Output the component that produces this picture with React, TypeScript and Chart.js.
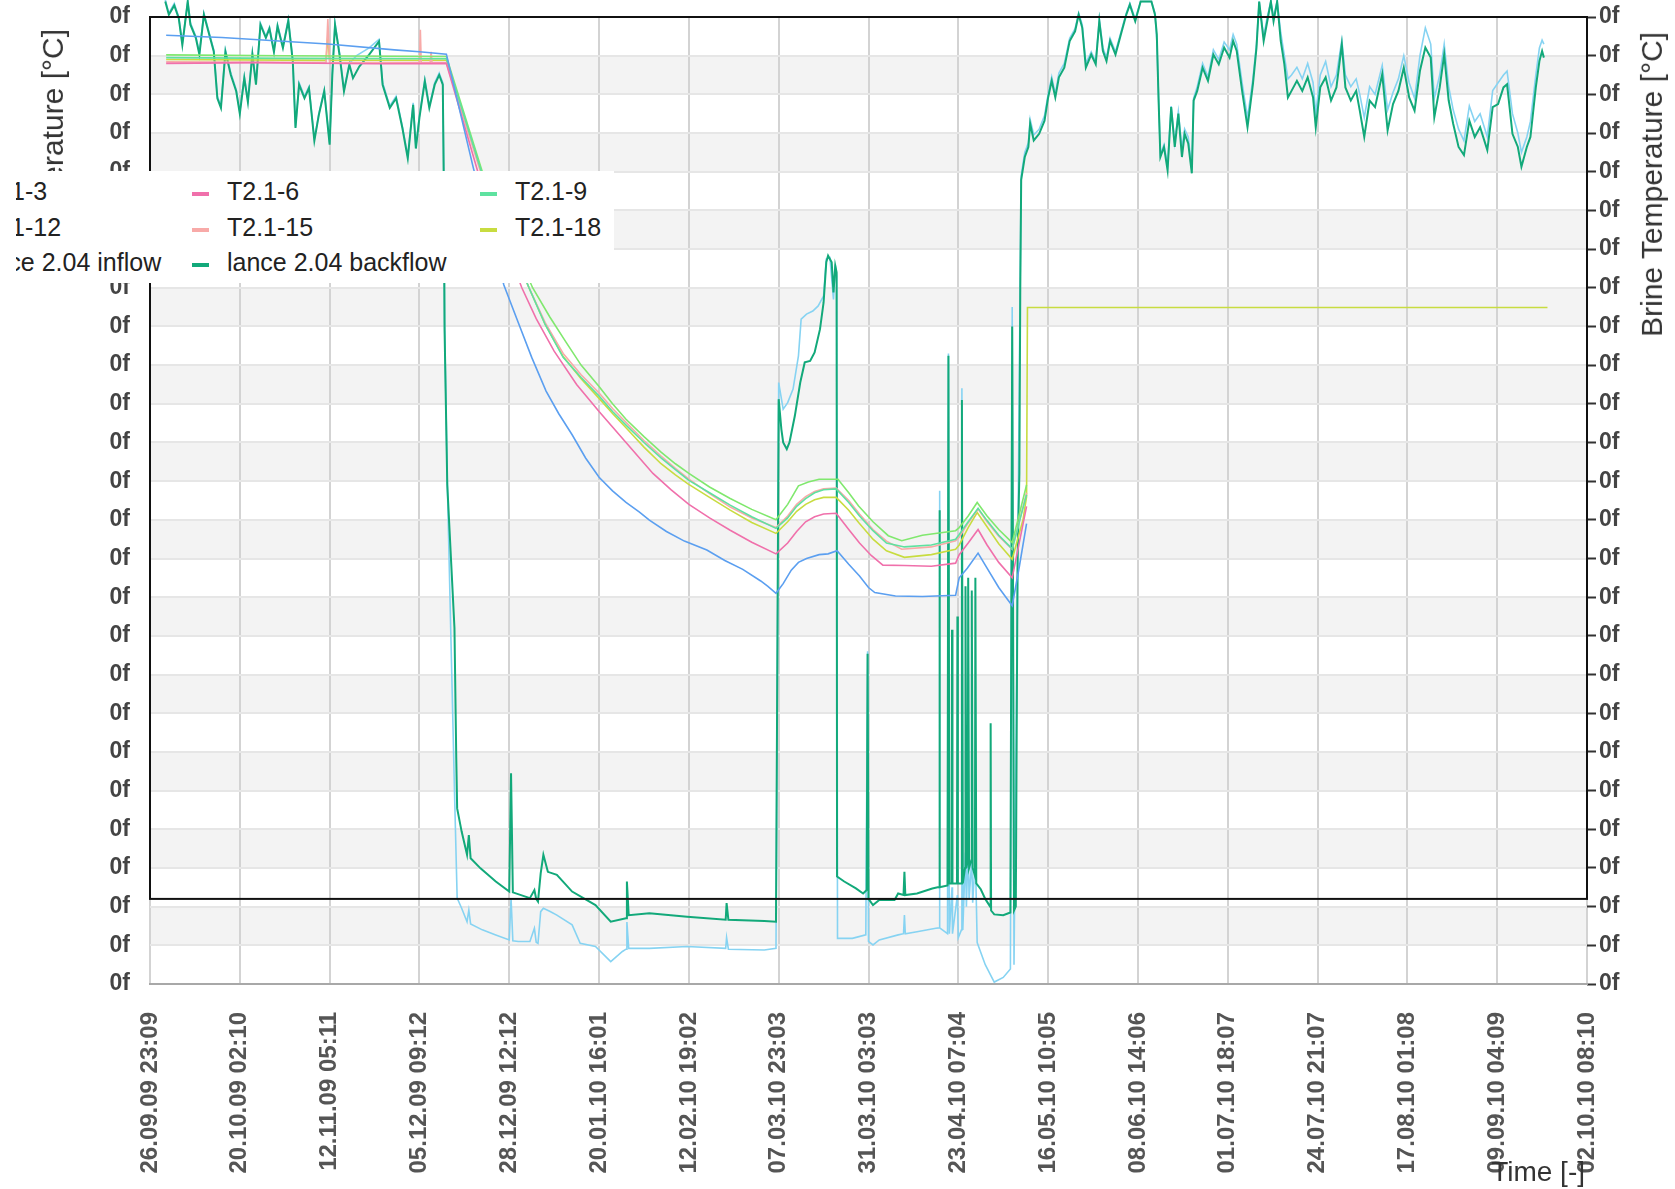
import React, { useEffect, useRef } from 'react';
import { Chart, registerables } from 'chart.js';

Chart.register(...registerables);

const W = 1675;
const H = 1189;
const FONT = "'Liberation Sans', Arial, sans-serif";

// x values are in tick steps (0 = first tick label), y values in axis steps (0 = bottom tick)
const xTickLabels = [
  '26.09.09 23:09', '20.10.09 02:10', '12.11.09 05:11', '05.12.09 09:12', '28.12.09 12:12',
  '20.01.10 16:01', '12.02.10 19:02', '07.03.10 23:03', '31.03.10 03:03', '23.04.10 07:04',
  '16.05.10 10:05', '08.06.10 14:06', '01.07.10 18:07', '24.07.10 21:07', '17.08.10 01:08',
  '09.09.10 04:09', '02.10.10 08:10',
];
const yTickLabel = '0f';
const Y_MIN = 0;
const Y_MAX = 25;
const BOX_FLOOR = 2.2;

type P = [number, number];

const T2_1_3: P[] = [
  [0.18, 24.53], [0.8, 24.47], [1.57, 24.36], [1.98, 24.3], [2.72, 24.15], [3.0, 24.1], [3.3, 24.04],
  [3.6, 21.1], [3.94, 18.07], [4.1, 17.1], [4.25, 16.2], [4.41, 15.33], [4.55, 14.75], [4.7, 14.2],
  [4.85, 13.6], [5.0, 13.1], [5.15, 12.75], [5.3, 12.45], [5.45, 12.2], [5.56, 11.99], [5.75, 11.7],
  [5.95, 11.45], [6.2, 11.22], [6.4, 10.95], [6.6, 10.72], [6.8, 10.42], [6.88, 10.28], [6.97, 10.1],
  [7.05, 10.35], [7.14, 10.7], [7.22, 10.9], [7.31, 11.0], [7.45, 11.1], [7.55, 11.12], [7.65, 11.2],
  [7.78, 10.85], [7.9, 10.55], [8.0, 10.25], [8.07, 10.12], [8.3, 10.03], [8.6, 10.02], [8.97, 10.05],
  [9.01, 10.5], [9.1, 10.75], [9.22, 11.14], [9.32, 10.75], [9.45, 10.25], [9.6, 9.78], [9.68, 10.8], [9.76, 11.9],
];
const T2_1_6: P[] = [
  [0.18, 23.8], [1.2, 23.82], [2.5, 23.79], [3.3, 23.8], [3.65, 21.0], [4.14, 18.0], [4.3, 17.2],
  [4.5, 16.36], [4.75, 15.5], [5.0, 14.8], [5.15, 14.4], [5.3, 14.0], [5.45, 13.6], [5.6, 13.2],
  [5.8, 12.78], [6.0, 12.4], [6.23, 12.05], [6.46, 11.73], [6.7, 11.42], [6.97, 11.12], [7.1, 11.4],
  [7.2, 11.7], [7.3, 11.95], [7.4, 12.08], [7.5, 12.15], [7.64, 12.17], [7.78, 11.75], [7.9, 11.4],
  [8.03, 11.08], [8.16, 10.83], [8.4, 10.82], [8.7, 10.8], [8.97, 10.88], [9.01, 11.1], [9.11, 11.4],
  [9.22, 11.75], [9.32, 11.35], [9.45, 10.9], [9.6, 10.5], [9.76, 12.35],
];
const T2_1_9: P[] = [
  [0.18, 23.95], [1.5, 23.93], [3.3, 23.92], [3.69, 21.0], [4.22, 18.0], [4.4, 17.05], [4.6, 16.2],
  [4.8, 15.68], [5.0, 15.2], [5.15, 14.8], [5.3, 14.45], [5.5, 14.0], [5.69, 13.6], [5.85, 13.3],
  [6.0, 13.02], [6.23, 12.7], [6.46, 12.38], [6.7, 12.08], [6.97, 11.78], [7.1, 12.05], [7.2, 12.35],
  [7.3, 12.55], [7.4, 12.7], [7.5, 12.78], [7.64, 12.8], [7.78, 12.45], [7.9, 12.1], [8.05, 11.72],
  [8.2, 11.4], [8.4, 11.3], [8.7, 11.35], [8.97, 11.5], [9.01, 11.62], [9.11, 11.95], [9.22, 12.3],
  [9.32, 11.98], [9.45, 11.6], [9.6, 11.25], [9.76, 12.65],
];
const T2_1_12: P[] = [
  [0.18, 24.02], [1.5, 24.0], [3.3, 23.98], [3.7, 21.0], [4.26, 18.0], [4.45, 17.25], [4.63, 16.6],
  [4.8, 16.0], [5.0, 15.45], [5.15, 15.0], [5.3, 14.6], [5.5, 14.15], [5.69, 13.75], [5.85, 13.45],
  [6.0, 13.2], [6.23, 12.85], [6.46, 12.55], [6.7, 12.27], [6.97, 12.0], [7.1, 12.4], [7.22, 12.88],
  [7.33, 12.98], [7.45, 13.05], [7.66, 13.05], [7.78, 12.7], [7.89, 12.36], [8.05, 11.95], [8.22, 11.59],
  [8.37, 11.46], [8.6, 11.6], [8.97, 11.72], [9.01, 11.8], [9.11, 12.1], [9.21, 12.45], [9.32, 12.1],
  [9.45, 11.75], [9.6, 11.41], [9.76, 12.9],
];
const T2_1_15: P[] = [
  [0.18, 23.84], [1.96, 23.82], [1.98, 24.95], [2.0, 23.82], [3.0, 23.82], [3.01, 24.67], [3.02, 23.82],
  [3.12, 23.82], [3.13, 24.1], [3.14, 23.82], [3.3, 23.82], [3.68, 21.0], [4.22, 18.0], [4.4, 17.1],
  [4.6, 16.3], [4.8, 15.75], [5.0, 15.28], [5.15, 14.88], [5.3, 14.52], [5.5, 14.05], [5.69, 13.65],
  [5.85, 13.33], [6.0, 13.05], [6.23, 12.68], [6.46, 12.33], [6.7, 12.05], [6.97, 11.8], [7.1, 12.1],
  [7.2, 12.4], [7.3, 12.6], [7.4, 12.73], [7.5, 12.8], [7.64, 12.82], [7.78, 12.5], [7.9, 12.15],
  [8.05, 11.75], [8.2, 11.45], [8.37, 11.24], [8.7, 11.3], [8.97, 11.46], [9.01, 11.55], [9.11, 11.92],
  [9.22, 12.28], [9.32, 11.95], [9.45, 11.58], [9.6, 11.24], [9.76, 12.7],
];
const T2_1_18: P[] = [
  [0.18, 23.9], [1.96, 23.88], [1.98, 24.5], [2.0, 23.88], [3.3, 23.88], [3.69, 21.0], [4.22, 18.0],
  [4.4, 17.05], [4.6, 16.22], [4.8, 15.65], [5.0, 15.14], [5.15, 14.75], [5.3, 14.38], [5.5, 13.88],
  [5.69, 13.45], [5.85, 13.16], [5.99, 12.93], [6.23, 12.58], [6.46, 12.25], [6.7, 11.93], [6.97, 11.65],
  [7.1, 11.95], [7.2, 12.22], [7.3, 12.4], [7.4, 12.52], [7.5, 12.58], [7.64, 12.58], [7.78, 12.25],
  [7.89, 11.93], [8.05, 11.5], [8.2, 11.2], [8.4, 11.03], [8.7, 11.1], [8.97, 11.24], [9.01, 11.35],
  [9.11, 11.8], [9.21, 12.19], [9.32, 11.82], [9.45, 11.38], [9.6, 10.98], [9.72, 12.0],
  [9.76, 12.6], [9.77, 17.49], [15.56, 17.49],
];

const lanceInflow: P[] = [
  [0.17, 25.45], [0.21, 25.1], [0.27, 25.35], [0.32, 25.0], [0.36, 24.33], [0.42, 25.4], [0.45, 24.85],
  [0.51, 24.5], [0.55, 24.08], [0.6, 25.1], [0.66, 24.58], [0.71, 24.15], [0.75, 22.95], [0.79, 22.7],
  [0.84, 24.15], [0.9, 23.55], [0.96, 23.12], [1.0, 22.55], [1.05, 23.46], [1.09, 22.85], [1.14, 24.07],
  [1.18, 23.3], [1.23, 24.84], [1.29, 24.5], [1.33, 24.74], [1.38, 24.14], [1.42, 24.8], [1.48, 24.24],
  [1.54, 24.94], [1.59, 23.9], [1.62, 22.17], [1.66, 23.3], [1.72, 22.95], [1.77, 23.2], [1.83, 21.85],
  [1.88, 22.5], [1.94, 23.12], [2.0, 21.74], [2.03, 23.55], [2.06, 24.84], [2.11, 24.07], [2.16, 23.12],
  [2.22, 23.8], [2.3, 24.0], [2.44, 24.2], [2.55, 24.42], [2.59, 23.3], [2.67, 22.7], [2.74, 22.95],
  [2.81, 22.17], [2.87, 21.4], [2.93, 22.78], [2.96, 21.65], [3.0, 22.45], [3.06, 23.38], [3.11, 22.7],
  [3.17, 23.3], [3.22, 23.55], [3.26, 23.3], [3.27, 21.1], [3.28, 17.1], [3.31, 13.0], [3.35, 9.0],
  [3.39, 5.0], [3.42, 2.22], [3.47, 1.96], [3.53, 1.61], [3.55, 1.91], [3.57, 1.55], [3.7, 1.4],
  [3.85, 1.27], [4.0, 1.14], [4.02, 2.22], [4.04, 1.12], [4.1, 1.1], [4.23, 1.1], [4.28, 1.44],
  [4.3, 1.08], [4.32, 1.05], [4.35, 1.87], [4.38, 1.96], [4.45, 1.88], [4.53, 1.78], [4.7, 1.53],
  [4.79, 1.05], [4.96, 0.97], [5.13, 0.58], [5.26, 0.84], [5.3, 0.9], [5.31, 1.6], [5.33, 0.92],
  [5.56, 0.92], [5.98, 0.97], [6.41, 0.92], [6.42, 1.2], [6.44, 0.9], [6.84, 0.88], [6.97, 0.92],
  [7.0, 15.55], [7.05, 14.86], [7.1, 15.03], [7.16, 15.38], [7.22, 16.24], [7.25, 17.19], [7.31, 17.32],
  [7.38, 17.4], [7.44, 17.53], [7.5, 17.79], [7.53, 18.74], [7.57, 18.78], [7.61, 17.7], [7.63, 18.6],
  [7.645, 18.3], [7.655, 1.18], [7.82, 1.18], [7.97, 1.27], [7.99, 8.6], [8.0, 1.1], [8.05, 1.01],
  [8.12, 1.14], [8.33, 1.27], [8.39, 1.3], [8.4, 1.78], [8.41, 1.3], [8.54, 1.35], [8.75, 1.44],
  [8.785, 1.45], [8.79, 12.75], [8.795, 1.45], [8.88, 1.3], [8.89, 16.3], [8.9, 1.3], [8.93, 2.5],
  [8.935, 1.3], [8.99, 2.3], [9.0, 1.2], [9.035, 1.4], [9.04, 15.4], [9.05, 1.4], [9.08, 3.4],
  [9.09, 2.0], [9.11, 3.6], [9.12, 2.2], [9.15, 3.2], [9.16, 2.1], [9.19, 3.3], [9.21, 1.07],
  [9.3, 0.5], [9.4, 0.05], [9.5, 0.17], [9.58, 0.39], [9.6, 17.5], [9.62, 0.5], [9.66, 10.5],
  [9.69, 18.5], [9.7, 20.9], [9.74, 21.5], [9.78, 21.75], [9.8, 22.35], [9.84, 21.95], [9.9, 22.1],
  [9.96, 22.45], [10.0, 23.0], [10.04, 23.45], [10.08, 23.0], [10.12, 23.55], [10.18, 23.8], [10.24, 24.45],
  [10.3, 24.7], [10.34, 25.1], [10.38, 24.8], [10.42, 23.8], [10.48, 24.1], [10.53, 23.85], [10.57, 24.95],
  [10.61, 24.2], [10.65, 23.95], [10.69, 24.45], [10.75, 24.1], [10.81, 24.6], [10.87, 25.1], [10.91, 25.35],
  [10.97, 24.95], [11.03, 25.4], [11.15, 25.4], [11.19, 25.1], [11.21, 24.4], [11.23, 22.9], [11.25, 21.45],
  [11.29, 21.7], [11.33, 21.15], [11.37, 22.7], [11.41, 21.75], [11.45, 22.55], [11.49, 21.6], [11.52, 22.1],
  [11.56, 21.9], [11.6, 21.05], [11.62, 22.9], [11.66, 23.2], [11.72, 23.8], [11.78, 23.45], [11.84, 24.15],
  [11.9, 23.9], [11.96, 24.35], [12.02, 24.15], [12.06, 24.55], [12.1, 24.3], [12.16, 23.3], [12.22, 22.4],
  [12.28, 23.4], [12.32, 24.3], [12.35, 25.4], [12.4, 24.5], [12.44, 25.0], [12.48, 25.4], [12.51, 25.0],
  [12.55, 25.4], [12.59, 24.6], [12.63, 24.0], [12.67, 23.4], [12.71, 23.5], [12.77, 23.7], [12.83, 23.4],
  [12.89, 23.8], [12.95, 23.3], [12.98, 22.5], [13.03, 23.5], [13.09, 23.85], [13.15, 23.2], [13.21, 23.5],
  [13.27, 24.4], [13.31, 23.5], [13.37, 23.2], [13.43, 23.4], [13.47, 23.0], [13.52, 22.4], [13.58, 23.2],
  [13.64, 23.0], [13.72, 23.75], [13.78, 22.6], [13.84, 23.05], [13.9, 23.4], [13.96, 24.0], [14.02, 23.3],
  [14.08, 22.9], [14.14, 24.0], [14.2, 24.72], [14.26, 24.3], [14.3, 22.9], [14.36, 23.5], [14.41, 24.3],
  [14.46, 23.2], [14.51, 22.6], [14.57, 22.1], [14.63, 21.8], [14.69, 22.7], [14.75, 22.3], [14.81, 22.5],
  [14.89, 21.9], [14.95, 23.1], [15.01, 23.3], [15.07, 23.5], [15.11, 23.6], [15.17, 22.5], [15.23, 22.0],
  [15.27, 21.5], [15.33, 21.9], [15.37, 22.3], [15.43, 23.5], [15.47, 24.2], [15.5, 24.4], [15.52, 24.3],
];

const lanceBackflow: P[] = [
  [0.17, 25.4], [0.21, 25.06], [0.27, 25.3], [0.32, 24.97], [0.36, 24.28], [0.42, 25.4], [0.45, 24.8],
  [0.51, 24.46], [0.55, 24.03], [0.6, 25.06], [0.66, 24.54], [0.71, 24.11], [0.75, 22.9], [0.79, 22.65],
  [0.84, 24.1], [0.9, 23.5], [0.96, 23.08], [1.0, 22.5], [1.05, 23.42], [1.09, 22.8], [1.14, 24.03],
  [1.18, 23.25], [1.23, 24.8], [1.29, 24.46], [1.33, 24.7], [1.38, 24.1], [1.42, 24.76], [1.48, 24.2],
  [1.54, 24.9], [1.59, 23.85], [1.62, 22.13], [1.66, 23.25], [1.72, 22.9], [1.77, 23.16], [1.83, 21.8],
  [1.88, 22.47], [1.94, 23.08], [2.0, 21.7], [2.03, 23.5], [2.06, 24.8], [2.11, 24.03], [2.16, 23.08],
  [2.22, 23.77], [2.26, 23.42], [2.33, 23.72], [2.44, 24.03], [2.55, 24.37], [2.59, 23.25], [2.67, 22.65],
  [2.74, 22.9], [2.81, 22.13], [2.87, 21.35], [2.93, 22.73], [2.96, 21.6], [3.0, 22.4], [3.06, 23.34],
  [3.11, 22.65], [3.17, 23.25], [3.22, 23.5], [3.26, 23.25], [3.27, 21.0], [3.28, 16.9], [3.31, 12.9],
  [3.39, 9.2], [3.41, 5.84], [3.42, 4.54], [3.47, 3.94], [3.53, 3.34], [3.55, 3.85], [3.57, 3.25],
  [3.68, 2.99], [3.85, 2.65], [4.0, 2.39], [4.02, 5.45], [4.04, 2.37], [4.23, 2.22], [4.28, 2.43],
  [4.3, 2.2], [4.32, 2.13], [4.35, 2.86], [4.38, 3.34], [4.43, 2.9], [4.53, 2.82], [4.7, 2.39],
  [4.96, 2.04], [5.13, 1.61], [5.3, 1.7], [5.31, 2.65], [5.33, 1.78], [5.56, 1.83], [5.98, 1.74],
  [6.41, 1.66], [6.42, 2.09], [6.44, 1.66], [6.84, 1.63], [6.97, 1.61], [7.0, 15.12], [7.03, 14.34],
  [7.05, 14.0], [7.09, 13.83], [7.12, 14.0], [7.18, 14.69], [7.24, 15.55], [7.29, 16.07], [7.35, 16.11],
  [7.4, 16.33], [7.46, 16.93], [7.5, 17.62], [7.53, 18.66], [7.55, 18.83], [7.59, 18.66], [7.61, 17.88],
  [7.63, 18.57], [7.645, 18.4], [7.65, 2.78], [7.73, 2.65], [7.86, 2.47], [7.94, 2.34], [7.98, 2.43],
  [7.99, 8.54], [8.0, 2.2], [8.05, 2.04], [8.12, 2.17], [8.29, 2.17], [8.33, 2.34], [8.39, 2.3],
  [8.4, 2.9], [8.41, 2.3], [8.54, 2.34], [8.71, 2.47], [8.77, 2.5], [8.785, 2.5], [8.79, 12.25],
  [8.795, 2.5], [8.88, 2.55], [8.89, 16.24], [8.9, 2.6], [8.925, 2.6], [8.93, 9.16], [8.935, 2.6],
  [8.985, 2.6], [8.99, 9.5], [8.995, 2.6], [9.035, 2.6], [9.04, 15.1], [9.05, 2.6], [9.075, 3.0],
  [9.08, 10.28], [9.09, 3.0], [9.105, 3.2], [9.11, 10.5], [9.12, 3.0], [9.145, 3.2], [9.15, 10.17],
  [9.16, 3.0], [9.185, 2.8], [9.19, 10.5], [9.2, 2.6], [9.25, 2.45], [9.3, 2.2], [9.355, 2.0],
  [9.36, 6.74], [9.365, 1.9], [9.4, 1.8], [9.5, 1.78], [9.58, 1.85], [9.6, 17.0], [9.62, 1.9],
  [9.64, 2.0], [9.66, 11.0], [9.68, 13.2], [9.69, 18.0], [9.7, 20.79], [9.74, 21.38], [9.78, 21.64],
  [9.8, 22.24], [9.84, 21.81], [9.9, 21.98], [9.96, 22.32], [10.0, 22.92], [10.04, 23.35], [10.08, 22.92],
  [10.12, 23.44], [10.18, 23.69], [10.24, 24.38], [10.3, 24.63], [10.34, 25.06], [10.38, 24.72], [10.42, 23.69],
  [10.48, 24.03], [10.53, 23.78], [10.57, 24.89], [10.61, 24.12], [10.65, 23.86], [10.69, 24.38], [10.75, 24.03],
  [10.81, 24.55], [10.87, 25.06], [10.91, 25.32], [10.97, 24.89], [11.03, 25.4], [11.09, 25.4], [11.15, 25.4],
  [11.19, 25.06], [11.21, 24.55], [11.23, 22.84], [11.25, 21.38], [11.29, 21.64], [11.33, 21.04], [11.37, 22.67],
  [11.41, 21.64], [11.45, 22.5], [11.49, 21.38], [11.52, 21.98], [11.56, 21.73], [11.6, 20.96], [11.62, 22.84],
  [11.66, 23.09], [11.72, 23.69], [11.78, 23.35], [11.84, 24.03], [11.9, 23.78], [11.96, 24.21], [12.02, 23.95],
  [12.06, 24.38], [12.1, 24.12], [12.16, 23.09], [12.22, 22.15], [12.28, 23.26], [12.32, 24.21], [12.35, 25.4],
  [12.4, 24.38], [12.44, 24.89], [12.48, 25.4], [12.51, 24.89], [12.55, 25.4], [12.59, 24.38], [12.63, 23.78],
  [12.67, 22.92], [12.71, 23.09], [12.77, 23.35], [12.83, 23.09], [12.89, 23.44], [12.95, 22.92], [12.98, 22.15],
  [13.03, 23.18], [13.09, 23.44], [13.15, 22.84], [13.21, 23.18], [13.27, 24.29], [13.31, 23.18], [13.37, 22.84],
  [13.43, 23.09], [13.47, 22.58], [13.52, 21.9], [13.58, 22.84], [13.64, 22.67], [13.72, 23.52], [13.78, 22.07],
  [13.84, 22.75], [13.9, 23.09], [13.96, 23.69], [14.02, 22.92], [14.08, 22.58], [14.14, 23.61], [14.2, 24.21],
  [14.26, 23.95], [14.3, 22.41], [14.36, 23.18], [14.41, 24.03], [14.46, 22.84], [14.51, 22.24], [14.57, 21.64],
  [14.63, 21.43], [14.69, 22.32], [14.75, 21.9], [14.81, 22.15], [14.89, 21.56], [14.95, 22.67], [15.01, 22.75],
  [15.07, 23.18], [15.11, 23.26], [15.17, 21.98], [15.23, 21.64], [15.27, 21.13], [15.33, 21.64], [15.37, 21.9],
  [15.43, 23.18], [15.47, 23.86], [15.5, 24.12], [15.52, 23.95],
];

const seriesList = [
  { label: 'T2.1-3', color: '#5b9ff0', data: T2_1_3, width: 1.6, order: 0, clip: true },
  { label: 'T2.1-6', color: '#f070ab', data: T2_1_6, width: 1.6, order: 0, clip: true },
  { label: 'T2.1-9', color: '#5ee2a0', data: T2_1_9, width: 1.6, order: 0, clip: true },
  { label: 'T2.1-12', color: '#80e86e', data: T2_1_12, width: 1.6, order: 0, clip: true },
  { label: 'T2.1-15', color: '#f8aaa8', data: T2_1_15, width: 1.6, order: 0, clip: true },
  { label: 'T2.1-18', color: '#c8dc40', data: T2_1_18, width: 1.6, order: 0, clip: true },
  { label: 'lance 2.04 inflow', color: '#86d3f2', data: lanceInflow, width: 1.6, order: 2, clip: false },
  { label: 'lance 2.04 backflow', color: '#12a97a', data: lanceBackflow, width: 2, order: 1, clip: false },
];

const bandsPlugin = {
  id: 'bands',
  beforeDraw(chart: any) {
    const { ctx, chartArea, scales } = chart;
    const y = scales.y;
    ctx.save();
    ctx.fillStyle = '#f3f3f3';
    for (let k = Y_MIN + 1; k < Y_MAX; k += 2) {
      const t = y.getPixelForValue(k + 1);
      const b = y.getPixelForValue(k);
      ctx.fillRect(chartArea.left, t, chartArea.right - chartArea.left, b - t);
    }
    ctx.restore();
  },
};

const boxPlugin = {
  id: 'box',
  afterDatasetsDraw(chart: any) {
    const { ctx, chartArea, scales } = chart;
    const bottom = scales.y.getPixelForValue(BOX_FLOOR);
    ctx.save();
    ctx.strokeStyle = '#111';
    ctx.lineWidth = 2;
    ctx.strokeRect(chartArea.left, chartArea.top, chartArea.right - chartArea.left, bottom - chartArea.top);
    ctx.restore();
  },
};

export default function App() {
  const ref = useRef<HTMLCanvasElement>(null);

  useEffect(() => {
    if (!ref.current) return;
    const chart = new Chart(ref.current, {
      type: 'line',
      data: {
        datasets: seriesList.map((s) => ({
          label: s.label,
          data: s.data.map(([x, y]) => ({ x, y })),
          borderColor: s.color,
          backgroundColor: s.color,
          borderWidth: s.width,
          pointRadius: 0,
          tension: 0,
          order: s.order,
          clip: s.clip ? undefined : false,
          yAxisID: 'y',
        })) as any,
      },
      options: {
        responsive: false,
        animation: false,
        devicePixelRatio: 1,
        layout: { padding: { top: 17, left: 0, right: 0, bottom: 0 } },
        plugins: {
          legend: { display: false },
          tooltip: { enabled: false },
          title: { display: false },
        },
        scales: {
          x: {
            type: 'linear',
            position: 'bottom',
            min: 0,
            max: xTickLabels.length - 1,
            afterFit: (s: any) => { s.height = 205; },
            ticks: {
              stepSize: 1,
              autoSkip: false,
              maxRotation: 90,
              minRotation: 90,
              padding: 28,
              color: '#555',
              font: { family: FONT, size: 24, weight: 'bold' },
              callback: (v: any) => xTickLabels[Math.round(Number(v))] ?? '',
            },
            grid: { color: '#d3d3d3', lineWidth: 2, drawTicks: false },
            border: { display: true, color: '#a8a8a8', width: 2 },
          },
          y: {
            position: 'left',
            min: Y_MIN,
            max: Y_MAX,
            afterFit: (s: any) => { s.width = 150; },
            ticks: {
              stepSize: 1,
              autoSkip: false,
              padding: 2,
              color: '#444',
              font: { family: FONT, size: 23, weight: 'bold' },
              callback: () => yTickLabel,
            },
            grid: { color: '#e6e6e6', lineWidth: 2, drawTicks: true, tickLength: 18, tickColor: 'rgba(0,0,0,0)' },
            border: { display: false },
          },
          y2: {
            position: 'right',
            min: Y_MIN,
            max: Y_MAX,
            afterFit: (s: any) => { s.width = 88; },
            ticks: {
              stepSize: 1,
              autoSkip: false,
              padding: 3,
              color: '#444',
              font: { family: FONT, size: 23, weight: 'bold' },
              callback: () => yTickLabel,
            },
            grid: { drawOnChartArea: false, drawTicks: true, tickLength: 9, tickColor: '#333', tickWidth: 2 },
            border: { display: false },
          },
        },
      } as any,
      plugins: [bandsPlugin, boxPlugin],
    });
    return () => chart.destroy();
  }, []);

  const titleStyle: React.CSSProperties = {
    position: 'absolute',
    fontFamily: FONT,
    fontSize: 30,
    lineHeight: '30px',
    color: '#333',
    whiteSpace: 'nowrap',
  };

  return (
    <div style={{ position: 'fixed', left: 0, top: 0, width: W, height: H, overflow: 'hidden', background: '#fff' }}>
      <canvas ref={ref} width={W} height={H} style={{ position: 'absolute', left: 0, top: 0, width: W, height: H }} />
      <div style={{ ...titleStyle, left: 38, top: 29, writingMode: 'vertical-rl', transform: 'rotate(180deg)', zIndex: 1 }}>
        Temperature [°C]
      </div>
      <div style={{ ...titleStyle, left: 1637, top: 32, writingMode: 'vertical-rl', transform: 'rotate(180deg)', zIndex: 1 }}>
        Brine Temperature [°C]
      </div>
      <div style={{ ...titleStyle, left: 0, width: 1585, top: 1157, textAlign: 'right', fontSize: 28, zIndex: 1 }}>
        Time [-]
      </div>
      <div style={{ position: 'absolute', left: 0, top: 171, width: 614, height: 112, background: '#fff', zIndex: 2 }}>
        <div style={{ position: 'absolute', left: 16, top: 0, width: 598, height: 112, overflow: 'hidden' }}>
          <div
            style={{
              position: 'absolute',
              left: -76,
              top: 0,
              width: 676,
              height: 112,
              display: 'grid',
              gridTemplateColumns: '252px 288px 134px',
              gridAutoRows: '35.5px',
              paddingTop: 3,
              boxSizing: 'border-box',
              fontFamily: FONT,
              fontSize: 25,
              color: '#222',
            }}
          >
            {seriesList.map((s) => (
              <div key={s.label} style={{ display: 'flex', alignItems: 'center', whiteSpace: 'nowrap' }}>
                <span style={{ display: 'inline-block', width: 17, height: 4, background: s.color, marginRight: 18, marginTop: 5 }} />
                <span>{s.label}</span>
              </div>
            ))}
          </div>
        </div>
      </div>
    </div>
  );
}
